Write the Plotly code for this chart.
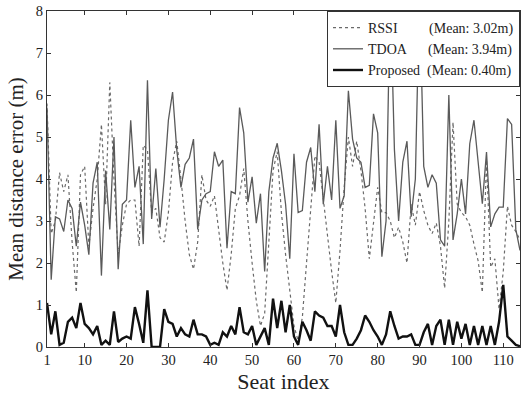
import numpy as np
import plotly.graph_objects as go

seats = list(range(1, 115))

rssi = [5.8, 2.7, 3.0, 4.15, 3.7, 4.1, 2.5, 1.3, 4.1, 4.3,
        2.4, 3.3, 4.0, 5.3, 3.4, 6.3, 4.0, 2.2, 2.9, 3.4,
        3.5, 3.5, 2.4, 4.8, 4.7, 3.2, 3.3, 2.6, 2.5, 3.2,
        4.4, 4.9, 4.0, 3.0, 2.2, 1.85, 2.5, 4.1, 3.5, 3.35,
        3.6, 2.8, 2.0, 1.35, 2.2, 3.3, 3.6, 4.25, 3.0, 2.0,
        1.1, 0.5, 0.8, 2.5, 4.2, 4.65, 3.2, 2.2, 1.3, 0.5,
        0.15, 0.7, 2.0, 3.3, 4.55, 4.4, 3.5, 2.7, 1.8, 1.05,
        2.3, 3.8, 5.0, 4.3, 4.9, 4.2, 3.3, 2.1, 3.0, 3.8,
        3.2, 3.2, 3.0, 2.6, 2.85, 2.5, 2.0, 3.4, 2.9, 3.7,
        3.25, 2.9, 2.7, 2.95, 2.4, 1.4, 3.0, 5.35, 3.4, 3.2,
        3.1, 2.9, 2.45, 2.05, 1.3, 4.45, 1.9, 2.1, 0.9, 1.8,
        3.35, 2.9, 2.75, 2.55]

tdoa = [5.7, 1.6, 3.1, 3.05, 2.75, 3.5, 3.3, 2.4, 3.45, 2.9,
        2.2, 3.9, 4.4, 1.7, 4.2, 2.8, 5.0, 1.85, 3.4, 3.5,
        5.4, 3.8, 4.3, 2.45, 6.35, 3.05, 4.25, 2.85, 4.0, 5.4,
        6.07, 4.7, 3.8, 4.35, 4.5, 4.95, 2.8, 3.5, 3.65, 3.7,
        4.65, 4.3, 4.45, 2.35, 3.7, 3.65, 5.7, 5.1, 3.45, 4.05,
        2.95, 3.65, 1.8, 3.7, 4.5, 4.85, 4.2, 3.4, 2.1, 4.6,
        3.2, 3.25, 4.4, 4.75, 3.7, 5.3, 3.4, 4.3, 3.5, 5.4,
        3.3, 3.6, 6.1, 4.95, 4.5, 4.4, 3.8, 3.85, 5.55, 5.1,
        2.15, 3.0, 8.5, 4.7, 3.0, 4.4, 4.9, 3.1, 4.0, 8.5,
        4.3, 3.8, 4.1, 3.9, 2.55, 2.4, 6.0, 2.55, 3.17, 4.0,
        3.17, 4.84, 5.4, 4.44, 3.41, 4.64, 2.86, 3.17, 3.33, 3.33,
        5.44, 5.3, 2.8, 2.3]

proposed = [1.05, 0.3, 0.85, 0.05, 0.1, 0.6, 0.7, 0.45, 1.05, 0.55,
            0.45, 0.3, 0.5, 0.05, 0.15, 0.05, 0.85, 0.12, 0.2, 0.25,
            0.2, 0.95, 0.55, 0.1, 1.35, 0.0, 0.0, 0.0, 0.9, 0.6,
            0.55, 0.25, 0.45, 0.3, 0.25, 0.65, 0.3, 0.3, 0.25, 0.05,
            0.1, 0.05, 0.35, 0.25, 0.5, 0.3, 0.95, 0.35, 0.3, 0.5,
            0.05, 0.25, 0.45, 0.05, 1.15, 0.45, 1.1, 0.35, 1.0, 0.25,
            0.05, 0.6, 0.4, 0.15, 0.85, 0.75, 0.7, 0.5, 0.5, 0.25,
            1.0, 0.35, 0.05, 0.05, 0.2, 0.4, 0.75, 0.6, 0.4, 0.25,
            0.05, 0.3, 0.85, 0.5, 0.2, 0.25, 0.25, 0.3, 0.05, 0.05,
            0.35, 0.55, 0.05, 0.5, 0.65, 0.05, 0.65, 0.05, 0.6, 0.2,
            0.55, 0.05, 0.5, 0.05, 0.5, 0.05, 0.5, 0.05, 0.6, 1.48,
            0.25, 0.15, 0.05, 0.02]

x_ticks = [1, 10, 20, 30, 40, 50, 60, 70, 80, 90, 100, 110]
y_ticks = [0, 1, 2, 3, 4, 5, 6, 7, 8]

NB = "\u00a0"
FONT = "Liberation Serif"

def label(name, pad, vals):
    return f"{name}{NB * pad}(Mean: {np.mean(vals):.2f}m)"

fig = go.Figure()
fig.add_trace(go.Scatter(x=seats, y=rssi, mode="lines", name=label("RSSI", 9, rssi),
                         line=dict(color="#6a6a6a", width=1.2, dash="dot")))
fig.add_trace(go.Scatter(x=seats, y=tdoa, mode="lines", name=label("TDOA", 6, tdoa),
                         line=dict(color="#5a5a5a", width=1.3)))
fig.add_trace(go.Scatter(x=seats, y=proposed, mode="lines", name=label("Proposed", 2, proposed),
                         line=dict(color="#111111", width=2.4)))

axis_common = dict(showgrid=False, zeroline=False, showline=True, linecolor="#333333",
                   linewidth=1, mirror="ticks", ticks="inside", ticklen=4,
                   tickcolor="#333333", tickfont=dict(family=FONT, size=14.5, color="#222"))

fig.update_layout(
    width=522, height=397,
    margin=dict(l=47, r=2, t=11, b=50),
    paper_bgcolor="white", plot_bgcolor="white",
    font=dict(family=FONT, color="#222"),
    xaxis=dict(range=[1, 114], tickvals=x_ticks,
               title=dict(text="Seat index", font=dict(family=FONT, size=22), standoff=6),
               **axis_common),
    yaxis=dict(range=[0, 8], tickvals=y_ticks,
               title=dict(text="Mean distance error (m)", font=dict(family=FONT, size=21), standoff=6),
               **axis_common),
    legend=dict(x=1, y=1, xanchor="right", yanchor="top", bgcolor="white",
                bordercolor="#333333", borderwidth=1, itemwidth=30,
                font=dict(family=FONT, size=14, color="#222"), tracegroupgap=0),
    showlegend=True,
)

fig.write_html("out.html", config={"displayModeBar": False},
               post_script="document.body.style.margin='0';document.body.style.overflow='hidden';")
